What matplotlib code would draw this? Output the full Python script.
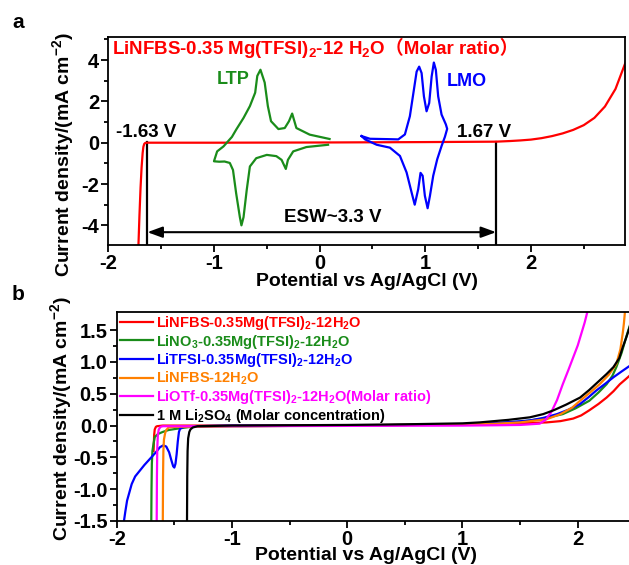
import matplotlib
matplotlib.use("Agg")
import matplotlib.pyplot as plt

plt.rcParams['font.family'] = ['Liberation Sans', 'Noto Sans CJK SC', 'DejaVu Sans']
plt.rcParams['font.weight'] = 'bold'
plt.rcParams['mathtext.default'] = 'regular'

# ---------------- Panel a data ----------------
red_a_x = [-1.715, -1.705, -1.695, -1.685, -1.675, -1.668, -1.66, -1.65, -1.63, -1.5, -1.0, 0.0, 1.0,
           1.67, 1.8, 1.9, 2.0, 2.1, 2.2, 2.3, 2.4, 2.5, 2.6, 2.7, 2.8, 2.9]
red_a_y = [-5.0, -3.5, -2.2, -1.2, -0.5, -0.2, -0.06, -0.01, 0.0, 0.0, 0.0, 0.01, 0.03,
           0.05, 0.08, 0.11, 0.15, 0.22, 0.32, 0.45, 0.62, 0.85, 1.2, 1.75, 2.6, 3.95]

ltp_x = [0.094, -0.094, -0.22, -0.26, -0.29, -0.33, -0.39, -0.46, -0.49, -0.52, -0.56, -0.59, -0.61,
         -0.66, -0.72, -0.79, -0.83, -0.91, -0.97, -1.0,
         -0.95, -0.90, -0.85, -0.82, -0.79, -0.755, -0.74, -0.72, -0.69, -0.66, -0.60, -0.50, -0.41,
         -0.36, -0.32, -0.30, -0.25, -0.125, 0.08]
ltp_y = [0.18, 0.39, 0.71, 1.41, 1.04, 0.71, 0.66, 1.04, 1.77, 2.91, 3.53, 3.23, 2.42,
         1.77, 1.2, 0.63, 0.28, -0.18, -0.42, -0.9,
         -0.92, -0.91, -0.98, -1.32, -2.45, -3.6, -4.0, -3.6, -2.29, -1.15, -0.75, -0.59, -0.65,
         -0.83, -1.27, -0.83, -0.42, -0.21, -0.1]

lmo_x = [0.397, 0.476, 0.665, 0.744, 0.807, 0.854, 0.892, 0.918, 0.942, 0.965, 0.987, 1.012, 1.037,
         1.06, 1.081, 1.10, 1.122, 1.154, 1.195, 1.207,
         1.186, 1.154, 1.113, 1.075, 1.044, 1.022, 0.996, 0.975, 0.955, 0.933, 0.90, 0.87, 0.823,
         0.76, 0.665, 0.54, 0.43, 0.397]
lmo_y = [0.32, 0.19, 0.17, 0.16, 0.40, 1.28, 2.56, 3.44, 3.68, 3.37, 2.24, 1.52, 1.92,
         3.2, 3.88, 3.52, 2.24, 1.36, 0.88, 0.67,
         0.29, -0.16, -0.8, -1.6, -2.57, -3.17, -2.57, -1.6, -1.46, -2.25, -3.0, -2.4, -1.44,
         -0.64, -0.24, -0.1, 0.16, 0.32]

esw_limits = [-1.63, 1.67]

# ---------------- Panel b data ----------------
b_labels = [r'LiNFBS-0.35Mg(TFSI)$_2$-12H$_2$O',
            r'LiNO$_3$-0.35Mg(TFSI)$_2$-12H$_2$O',
            r'LiTFSI-0.35Mg(TFSI)$_2$-12H$_2$O',
            r'LiNFBS-12H$_2$O',
            r'LiOTf-0.35Mg(TFSI)$_2$-12H$_2$O(Molar ratio)',
            r'1 M Li$_2$SO$_4$ (Molar concentration)']
b_colors = ['#ff0000', '#1a8c1a', '#0000ff', '#ff8000', '#ff00ff', '#000000']

red_x = [-1.68, -1.678, -1.675, -1.67, -1.66, -1.65, -1.6, -1.0, 0.0, 0.5, 1.0, 1.3, 1.5, 1.73, 1.85,
         1.96, 2.03, 2.10, 2.18, 2.25, 2.31, 2.365, 2.41, 2.46, 2.55]
red_y = [-0.4, -0.3, -0.15, -0.06, -0.02, -0.01, 0.0, 0.0, 0.005, 0.01, 0.02, 0.03, 0.035, 0.05, 0.07,
         0.11, 0.16, 0.24, 0.34, 0.44, 0.54, 0.65, 0.72, 0.80, 0.95]

green_x = [-1.70, -1.698, -1.695, -1.69, -1.68, -1.67, -1.64, -1.60, -1.55, -1.48, -1.36, -1.0, 0.0, 1.0,
           1.3, 1.5, 1.7, 1.87, 1.98, 2.10, 2.18, 2.25, 2.30, 2.335, 2.38, 2.42, 2.46, 2.55]
green_y = [-1.5, -1.0, -0.6, -0.4, -0.28, -0.18, -0.13, -0.10, -0.07, -0.05, -0.02, -0.01, 0.0, 0.02,
           0.04, 0.06, 0.11, 0.18, 0.27, 0.39, 0.52, 0.65, 0.78, 0.92, 1.14, 1.39, 1.62, 2.1]

blue_x = [-1.937, -1.925, -1.91, -1.89, -1.87, -1.84, -1.80, -1.76, -1.71, -1.66, -1.625, -1.595, -1.57,
          -1.545, -1.525, -1.51, -1.50, -1.49, -1.48, -1.47, -1.46, -1.45, -1.42, -1.35, -1.0, 0.0, 1.0,
          1.3, 1.585, 1.7, 1.82, 1.92, 2.02, 2.09, 2.16, 2.24, 2.31, 2.38, 2.46, 2.55]
blue_y = [-1.5, -1.35, -1.18, -1.05, -0.92, -0.8, -0.71, -0.62, -0.52, -0.42, -0.34, -0.31, -0.33,
          -0.42, -0.55, -0.64, -0.66, -0.6, -0.45, -0.25, -0.1, -0.05, -0.02, -0.01, 0.0, 0.0, 0.02,
          0.04, 0.08, 0.12, 0.18, 0.25, 0.34, 0.44, 0.55, 0.66, 0.76, 0.85, 0.95, 1.07]

orange_x = [-1.60, -1.598, -1.595, -1.59, -1.58, -1.57, -1.55, -1.5, -1.0, 0.0, 1.0, 1.3, 1.5, 1.73,
            1.85, 1.95, 2.02, 2.10, 2.19, 2.27, 2.335, 2.37, 2.39, 2.40, 2.41, 2.42]
orange_y = [-1.5, -0.8, -0.4, -0.22, -0.12, -0.07, -0.03, -0.02, -0.01, 0.0, 0.02, 0.03, 0.05, 0.10,
            0.18, 0.28, 0.39, 0.51, 0.65, 0.8, 0.97, 1.2, 1.45, 1.6, 1.8, 1.9]

magenta_x = [-1.653, -1.651, -1.648, -1.643, -1.635, -1.62, -1.6, -1.5, -1.0, 0.0, 1.0, 1.3, 1.5, 1.67,
             1.72, 1.77, 1.82, 1.87, 1.92, 1.96, 2.0, 2.03, 2.06, 2.085, 2.10]
magenta_y = [-1.5, -0.8, -0.35, -0.15, -0.06, -0.02, -0.01, -0.01, -0.01, -0.005, 0.0, 0.005, 0.01, 0.03,
             0.09, 0.21, 0.40, 0.65, 0.88, 1.07, 1.26, 1.44, 1.62, 1.8, 1.9]

black_x = [-1.39, -1.388, -1.385, -1.38, -1.37, -1.36, -1.34, -1.3, -1.0, 0.0, 0.5, 1.0, 1.15, 1.4, 1.585,
           1.7, 1.79, 1.9, 2.02, 2.1, 2.19, 2.25, 2.31, 2.36, 2.39, 2.42, 2.46, 2.55]
black_y = [-1.5, -0.8, -0.4, -0.2, -0.1, -0.06, -0.03, -0.01, 0.0, 0.01, 0.02, 0.035, 0.05, 0.09, 0.13,
           0.18, 0.24, 0.33, 0.44, 0.56, 0.71, 0.81, 0.92, 1.06, 1.23, 1.38, 1.6, 2.1]

b_series = [(red_x, red_y), (green_x, green_y), (blue_x, blue_y),
            (orange_x, orange_y), (magenta_x, magenta_y), (black_x, black_y)]

W, H = 629, 565
fig = plt.figure(figsize=(W / 100, H / 100), dpi=100)

def px_axes(l, t, r, b):
    return fig.add_axes([l / W, 1 - b / H, (r - l) / W, (b - t) / H])

LW = 1.6
TICK = dict(direction='out', width=1.3, labelsize=14.5, colors='black')
LABEL_FS = 14

# ---------------- Panel a ----------------
ax = px_axes(108.3, 37.3, 625, 245)
for s in ax.spines.values():
    s.set_linewidth(1.3)
for xv in esw_limits:
    ax.plot([xv, xv], [-5, 0.05], color='black', lw=LW)
ax.annotate('', xy=(esw_limits[0], -4.33), xytext=(esw_limits[1], -4.33),
            arrowprops=dict(arrowstyle='<|-|>,head_length=0.6,head_width=0.22', color='black',
                            lw=1.5, mutation_scale=15, shrinkA=0, shrinkB=0))
ax.plot(red_a_x, red_a_y, color='#ff0000', lw=LW)
ax.plot(ltp_x, ltp_y, color='#1a8c1a', lw=LW)
ax.plot(lmo_x, lmo_y, color='#0000ff', lw=LW)
ax.set_xlim(-2, 2.89)
ax.set_ylim(-4.95, 5.1)
ax.set_xticks([-2, -1, 0, 1, 2])
ax.set_xticks([-1.5, -0.5, 0.5, 1.5, 2.5], minor=True)
ax.set_yticks([-4, -2, 0, 2, 4])
ax.set_yticks([-3, -1, 1, 3, 5], minor=True)
ax.tick_params(which='major', length=5, pad=1.5, **TICK)
ax.tick_params(which='minor', length=3, direction='out', width=1.3)
ax.set_xticklabels(['-2', '-1', '0', '1', '2'])
ax.set_yticklabels(['-4', '-2', '0', '2', '4'])
ax.set_xlabel('Potential vs Ag/AgCl (V)', fontsize=LABEL_FS, fontweight='bold')
ax.xaxis.set_label_coords(0.5, -0.178)
ax.xaxis.label.set_va('center')
ax.set_ylabel(r'Current density/(mA cm$^{-2}$)', fontsize=LABEL_FS, fontweight='bold',
              rotation=90, rotation_mode='default', va='center', ha='center')
ax.yaxis.set_label_coords(-0.088, 0.433)

t1 = ax.text(-1.965, 4.49, r'LiNFBS-0.35 Mg(TFSI)$_2$-12 H$_2$O', color='#ff0000',
             fontsize=13.5, fontweight='bold', ha='left', va='center')
ax.annotate('（Molar ratio）', xy=(1, 0.56), xycoords=t1, color='#ff0000', fontsize=13.5,
            fontweight='bold', ha='left', va='center',
            family=['Liberation Sans', 'Noto Sans CJK SC'])
ax.text(-0.815, 3.04, 'LTP', color='#1a8c1a', fontsize=13, fontweight='bold', ha='center', va='center')
ax.text(1.39, 2.96, 'LMO', color='#0000ff', fontsize=13, fontweight='bold', ha='center', va='center')
ax.text(-1.64, 0.5, '-1.63 V', color='black', fontsize=13.5, fontweight='bold', ha='center', va='center')
ax.text(1.56, 0.5, '1.67 V', color='black', fontsize=13.5, fontweight='bold', ha='center', va='center')
ax.text(0.12, -3.6, 'ESW~3.3 V', color='black', fontsize=13.5, fontweight='bold', ha='center', va='center')

# ---------------- Panel b ----------------
bx = px_axes(116.7, 311.7, 640, 521)
for s in bx.spines.values():
    s.set_linewidth(1.3)
for (xs, ys), c, lab in zip(b_series, b_colors, b_labels):
    bx.plot(xs, ys, color=c, lw=LW, label=lab)
bx.set_xlim(-2, 2.54)
bx.set_ylim(-1.5, 1.79)
bx.set_xticks([-2, -1, 0, 1, 2])
bx.set_xticks([-1.5, -0.5, 0.5, 1.5], minor=True)
bx.set_yticks([-1.5, -1.0, -0.5, 0.0, 0.5, 1.0, 1.5])
bx.set_yticks([-1.25, -0.75, -0.25, 0.25, 0.75, 1.25], minor=True)
bx.tick_params(which='major', length=5, pad=1.5, **TICK)
bx.tick_params(which='minor', length=3, direction='out', width=1.3)
bx.set_xticklabels(['-2', '-1', '0', '1', '2'])
bx.set_yticklabels(['-1.5', '-1.0', '-0.5', '0.0', '0.5', '1.0', '1.5'])
bx.set_xlabel('Potential vs Ag/AgCl (V)', fontsize=LABEL_FS, fontweight='bold')
bx.xaxis.set_label_coords(0.476, -0.167)
bx.xaxis.label.set_va('center')
bx.set_ylabel(r'Current density/(mA cm$^{-2}$)', fontsize=LABEL_FS, fontweight='bold',
              rotation=90, rotation_mode='default', va='center', ha='center')
bx.yaxis.set_label_coords(-0.106, 0.49)
leg = bx.legend(loc='upper left', bbox_to_anchor=(0.006, 0.99), frameon=False,
                prop={'size': 10.5, 'weight': 'bold'}, labelcolor='linecolor',
                handlelength=2.3, handletextpad=0.2, labelspacing=0.05, borderpad=0,
                borderaxespad=0)

fig.text(18 / W, 1 - 22 / H, 'a', fontsize=15, fontweight='bold', ha='center', va='center')
fig.text(18 / W, 1 - 295 / H, 'b', fontsize=15, fontweight='bold', ha='center', va='center')

fig.savefig('out.png', dpi=100)
